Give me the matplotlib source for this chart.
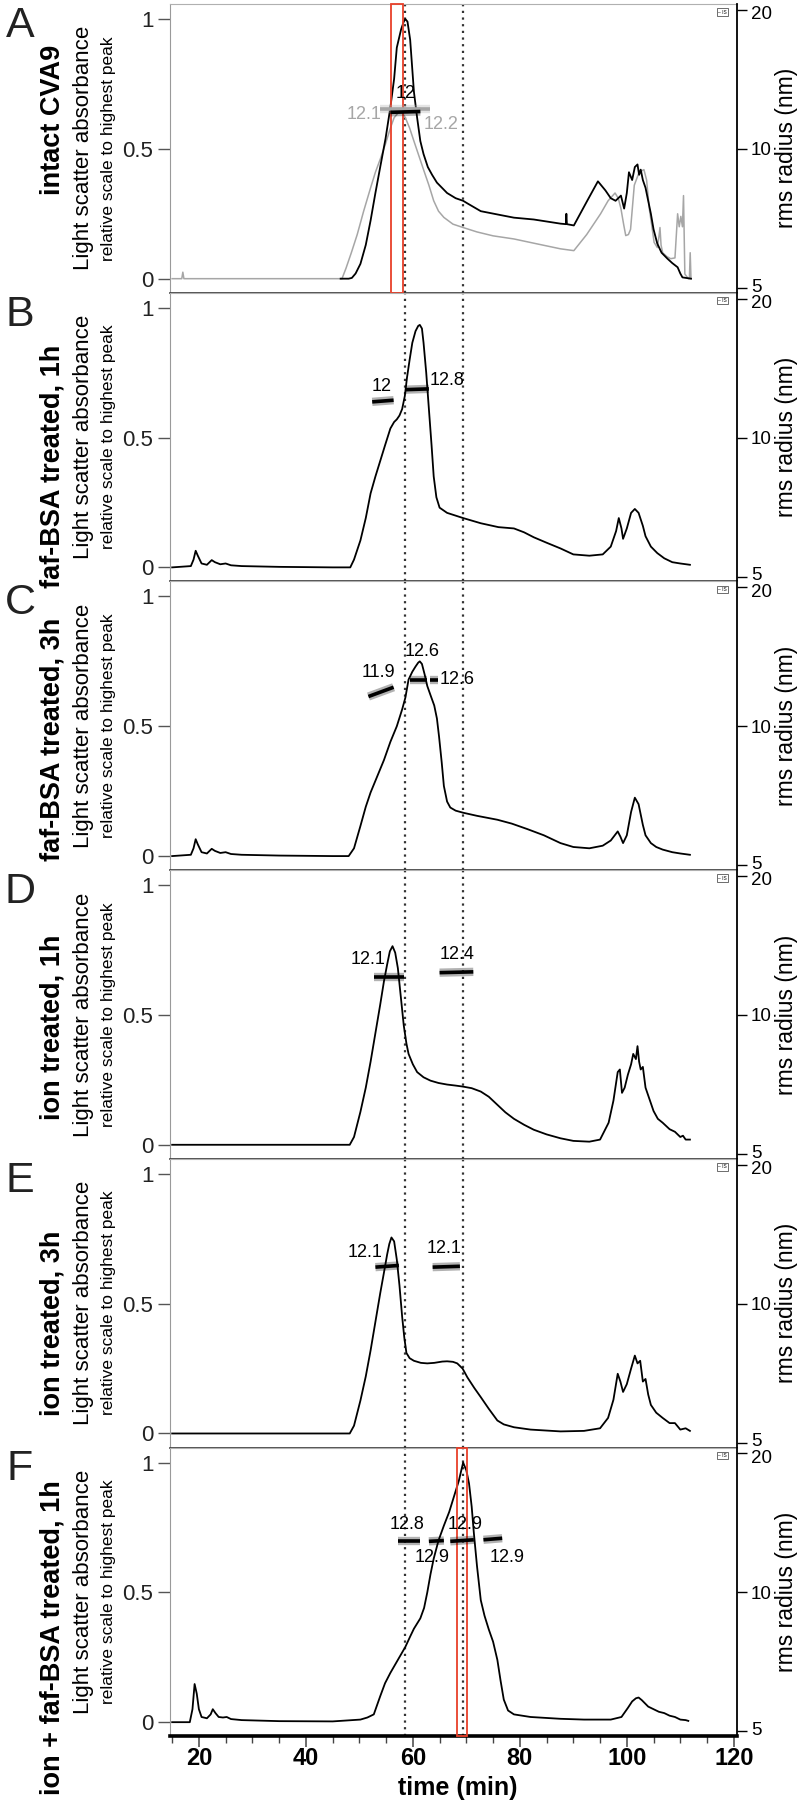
import matplotlib
matplotlib.use("Agg")
import matplotlib.pyplot as plt
from matplotlib.ticker import FixedLocator, MultipleLocator, NullLocator, NullFormatter
from matplotlib.patches import Rectangle
from matplotlib.transforms import ScaledTranslation

plt.rcParams['font.family'] = ['Liberation Sans', 'DejaVu Sans']

# ---- data -----------------------------------------------------------------
# time (min) / relative light scatter, one pair of lists per panel
a_t = [46.5, 48.0, 48.6, 49.3, 50.2, 51.2, 52.1, 53.0, 53.9, 54.9, 55.8, 56.5, 57.0, 57.8,
       58.3, 58.6, 59.0, 59.5, 60.2, 60.8, 61.4, 62.0, 62.8, 63.6, 64.5, 66.4, 68.0, 69.4,
       70.2, 72.7, 76.4, 78.9, 82.6, 87.6, 88.6, 88.7, 88.8, 90.1, 92.6, 94.6, 96.0, 97.0,
       97.9, 98.9, 99.5, 100.0, 100.4, 101.0, 101.5, 102.0, 102.3, 102.6, 103.0, 103.5,
       104.5, 105.0, 105.7, 106.5, 107.6, 108.5, 109.5, 110.0, 110.4, 112.0]
a_v = [0.0, 0.0, 0.003, 0.02, 0.057, 0.13, 0.224, 0.33, 0.43, 0.54, 0.66, 0.77, 0.89, 0.96,
       0.99, 1.0, 0.99, 0.92, 0.72, 0.62, 0.53, 0.48, 0.43, 0.40, 0.37, 0.33, 0.31, 0.30,
       0.29, 0.26, 0.245, 0.235, 0.228, 0.212, 0.21, 0.25, 0.21, 0.205, 0.30, 0.375, 0.34,
       0.31, 0.30, 0.32, 0.27, 0.33, 0.41, 0.38, 0.43, 0.44, 0.40, 0.42, 0.38, 0.35,
       0.25, 0.19, 0.135, 0.10, 0.077, 0.06, 0.044, 0.02, 0.005, 0.0]

a_gray_t = [15.0, 16.8, 17.0, 17.2, 46.75, 47.5, 48.5, 49.6, 50.8, 52.1, 53.0, 53.9, 54.9,
            55.8, 56.5, 57.3, 58.0, 58.6, 59.4, 60.2, 61.1, 62.0, 63.0, 63.9, 64.8, 65.8,
            67.5, 69.4, 72.0, 75.0, 78.9, 83.0, 87.6, 90.1, 92.5, 95.1, 96.5, 97.8, 98.4,
            98.9, 99.4, 99.8, 100.3, 100.7, 101.4, 102.3, 103.2, 103.7, 104.2, 104.7, 105.1,
            105.7, 106.0, 106.2, 106.4, 106.7, 107.5, 108.2, 109.0, 109.5, 109.8, 110.1,
            110.4, 110.6, 110.85, 111.5, 111.7, 111.85, 112.0]
a_gray_v = [0.0, 0.0, 0.025, 0.0, 0.0, 0.04, 0.10, 0.17, 0.26, 0.35, 0.41, 0.46, 0.52,
            0.58, 0.62, 0.64, 0.64, 0.62, 0.58, 0.53, 0.475, 0.42, 0.36, 0.30, 0.26, 0.236,
            0.21, 0.197, 0.18, 0.165, 0.153, 0.135, 0.115, 0.108, 0.17, 0.25, 0.30, 0.33, 0.31,
            0.27, 0.21, 0.166, 0.17, 0.19, 0.36, 0.41, 0.42, 0.38, 0.27, 0.20, 0.14,
            0.12, 0.16, 0.197, 0.13, 0.10, 0.085, 0.077, 0.08, 0.25, 0.20, 0.24,
            0.20, 0.32, 0.018, 0.0, 0.0, 0.10, 0.0]

b_t = [15.0, 18.5, 19.0, 19.4, 19.8, 20.5, 21.5, 22.4, 23.0, 24.0, 25.0, 26.0, 28.0, 35.0,
       45.0, 48.3, 49.0, 50.2, 51.2, 52.1, 53.0, 53.9, 54.8, 55.8, 56.5, 57.0, 57.5, 58.0,
       58.5, 58.9, 59.4, 59.9, 60.5, 61.0, 61.3, 61.7, 62.0, 62.5, 63.0, 63.5, 63.9, 64.4,
       65.0, 66.4, 69.4, 72.7, 76.0, 78.9, 80.8, 82.6, 85.0, 87.6, 90.0, 93.0, 95.5, 97.0,
       98.0, 98.5, 99.0, 99.3, 100.0, 100.8, 101.5, 102.2, 103.0, 103.5, 104.5, 105.7,
       107.0, 108.5, 110.0, 111.8]
b_v = [0.0, 0.005, 0.03, 0.064, 0.045, 0.015, 0.01, 0.028, 0.02, 0.012, 0.015, 0.008, 0.005,
       0.002, 0.0, 0.0, 0.03, 0.104, 0.19, 0.285, 0.35, 0.41, 0.47, 0.535, 0.56, 0.57, 0.585,
       0.61, 0.66, 0.73, 0.80, 0.865, 0.91, 0.93, 0.934, 0.92, 0.865, 0.75, 0.61, 0.47, 0.35,
       0.27, 0.23, 0.21, 0.19, 0.17, 0.155, 0.15, 0.135, 0.116, 0.095, 0.073, 0.05, 0.045,
       0.05, 0.08, 0.14, 0.19, 0.15, 0.11, 0.15, 0.21, 0.225, 0.21, 0.16, 0.12, 0.08, 0.055,
       0.035, 0.02, 0.015, 0.01]

c_t = [15.0, 18.5, 19.0, 19.4, 19.8, 20.5, 21.5, 22.4, 23.0, 24.0, 25.0, 26.0, 28.0, 35.0,
       45.0, 48.0, 49.0, 50.2, 51.2, 52.1, 53.0, 53.6, 54.6, 55.8, 57.0, 58.0, 58.6, 59.2,
       59.9, 60.5, 61.0, 61.3, 61.7, 62.2, 62.7, 63.3, 64.0, 64.5, 64.9, 65.4, 65.8, 66.4,
       67.0, 68.0, 69.4, 72.0, 75.8, 78.5, 81.4, 84.5, 87.6, 90.0, 93.0, 95.5, 97.0, 98.3,
       98.8, 99.3, 100.0, 100.8, 101.5, 102.2, 103.0, 103.5, 104.5, 105.5, 106.7, 108.5,
       110.0, 111.8]
c_v = [0.0, 0.005, 0.03, 0.065, 0.045, 0.015, 0.01, 0.028, 0.02, 0.012, 0.015, 0.008, 0.005,
       0.002, 0.0, 0.0, 0.03, 0.116, 0.19, 0.245, 0.29, 0.32, 0.37, 0.44, 0.50, 0.565, 0.61,
       0.68, 0.71, 0.73, 0.745, 0.75, 0.74, 0.70, 0.655, 0.62, 0.58, 0.53, 0.46, 0.36, 0.27,
       0.21, 0.187, 0.175, 0.167, 0.155, 0.14, 0.125, 0.104, 0.08, 0.05, 0.035, 0.03, 0.04,
       0.06, 0.095, 0.075, 0.05, 0.08, 0.17, 0.225, 0.20, 0.12, 0.08, 0.05, 0.035, 0.025,
       0.015, 0.01, 0.005]

d_t = [15.0, 45.0, 48.2, 49.0, 50.2, 51.2, 52.1, 53.0, 53.9, 54.6, 55.2, 55.7, 56.2, 56.7,
       57.2, 57.7, 58.3, 58.8, 59.2, 60.0, 60.8, 62.0, 63.3, 64.8, 66.4, 68.0, 69.4, 71.0,
       72.7, 74.2, 75.8, 77.3, 78.9, 80.8, 82.6, 85.0, 87.6, 90.0, 93.0, 95.0, 96.6, 97.5,
       98.3, 98.7, 99.1, 99.6, 100.2, 100.8, 101.2, 101.7, 102.0, 102.3, 102.6, 103.0,
       103.5, 104.0, 105.0, 105.8, 106.7, 108.0, 109.0, 110.0, 110.5, 111.0, 111.8]
d_v = [0.0, 0.0, 0.0, 0.03, 0.127, 0.22, 0.32, 0.43, 0.54, 0.63, 0.695, 0.745, 0.765, 0.74,
       0.68, 0.58, 0.46, 0.39, 0.35, 0.31, 0.28, 0.26, 0.247, 0.238, 0.232, 0.228, 0.224,
       0.218, 0.205, 0.185, 0.154, 0.125, 0.10, 0.077, 0.058, 0.04, 0.025, 0.015, 0.012,
       0.02, 0.085, 0.17, 0.28, 0.29, 0.20, 0.22, 0.27, 0.31, 0.35, 0.33, 0.38, 0.32, 0.29,
       0.30, 0.22, 0.19, 0.13, 0.10, 0.085, 0.06, 0.05, 0.03, 0.035, 0.02, 0.02]

e_t = [15.0, 45.0, 48.2, 49.0, 50.2, 51.2, 52.1, 53.0, 53.9, 54.6, 55.2, 55.6, 56.0, 56.5,
       57.0, 57.5, 58.0, 58.4, 58.8, 59.4, 60.2, 61.5, 62.7, 64.0, 65.5, 66.4, 67.5, 68.3,
       69.3, 70.2, 71.5, 72.7, 74.2, 75.8, 77.0, 78.9, 82.0, 87.6, 92.0, 95.0, 96.5, 97.5,
       98.3, 98.8, 99.3, 100.0, 100.8, 101.5, 102.0, 102.5, 103.0, 103.5, 104.0, 104.5,
       105.5, 106.7, 108.0, 109.0, 110.0, 111.0, 111.8]
e_v = [0.0, 0.0, 0.0, 0.03, 0.127, 0.22, 0.32, 0.43, 0.54, 0.62, 0.69, 0.73, 0.755, 0.74,
       0.67, 0.57, 0.45, 0.37, 0.31, 0.29, 0.28, 0.272, 0.27, 0.272, 0.277, 0.278, 0.276,
       0.27, 0.25, 0.216, 0.175, 0.14, 0.095, 0.05, 0.035, 0.024, 0.015, 0.008, 0.01, 0.02,
       0.06, 0.13, 0.23, 0.20, 0.16, 0.19, 0.25, 0.30, 0.27, 0.28, 0.20, 0.21, 0.15, 0.11,
       0.08, 0.06, 0.04, 0.04, 0.015, 0.02, 0.01]

f_t = [15.0, 18.3, 18.8, 19.2, 19.6, 20.0, 20.5, 21.5, 22.2, 22.6, 23.1, 23.7, 24.5, 25.2,
       26.0, 28.0, 35.0, 45.0, 50.2, 51.5, 52.7, 53.9, 54.8, 55.8, 57.2, 58.6, 59.5, 60.2,
       61.4, 62.1, 62.7, 63.3, 63.9, 64.8, 65.8, 66.8, 67.7, 68.6, 69.4, 70.0, 70.5, 71.0,
       71.4, 72.0, 72.7, 73.4, 74.2, 75.0, 75.8, 76.4, 77.0, 77.8, 78.9, 82.0, 87.6, 92.0,
       97.0, 99.0, 100.2, 101.0, 101.7, 102.2, 102.8, 104.0, 105.0, 106.0, 107.0, 108.0,
       109.0, 110.0, 111.0, 111.5]
f_v = [0.0, 0.0, 0.05, 0.147, 0.11, 0.05, 0.02, 0.015, 0.03, 0.05, 0.035, 0.02, 0.018, 0.02,
       0.012, 0.008, 0.004, 0.003, 0.01, 0.018, 0.03, 0.10, 0.15, 0.19, 0.24, 0.29, 0.33,
       0.36, 0.40, 0.44, 0.50, 0.57, 0.63, 0.70, 0.757, 0.81, 0.87, 0.93, 1.0, 0.97, 0.92,
       0.83, 0.73, 0.60, 0.47, 0.41, 0.357, 0.31, 0.24, 0.16, 0.087, 0.045, 0.03, 0.02,
       0.013, 0.01, 0.01, 0.02, 0.055, 0.08, 0.092, 0.095, 0.085, 0.06, 0.05, 0.04, 0.035,
       0.025, 0.02, 0.01, 0.008, 0.005]

# rms radius bands (nm): t start, t end, radius at start, radius at end, colour
a_bands = [(53.9, 63.3, 12.2, 12.2, 'gray'), (55.8, 61.4, 12.0, 12.05, 'black')]
b_bands = [(52.4, 56.4, 11.95, 12.05, 'black'), (58.6, 63.0, 12.7, 12.75, 'black')]
c_bands = [(51.7, 56.4, 11.6, 12.15, 'black'), (59.5, 62.7, 12.6, 12.6, 'black'),
           (63.2, 64.7, 12.6, 12.6, 'black')]
d_bands = [(52.7, 58.4, 12.1, 12.1, 'black'), (65.0, 71.3, 12.35, 12.4, 'black')]
e_bands = [(53.0, 57.4, 12.0, 12.1, 'black'), (63.7, 68.8, 12.0, 12.05, 'black')]
f_bands = [(57.2, 61.3, 12.9, 12.9, 'black'), (63.0, 65.8, 12.9, 12.95, 'black'),
           (67.0, 71.4, 12.9, 13.0, 'black'), (73.2, 76.7, 13.0, 13.1, 'black')]

# value labels: text, time, radius position, colour
a_labels = [('12', 58.6, 13.2, 'black'), ('12.1', 50.8, 11.85, 'gray'), ('12.2', 65.2, 11.27, 'gray')]
b_labels = [('12', 54.2, 12.9, 'black'), ('12.8', 66.4, 13.3, 'black')]
c_labels = [('11.9', 53.6, 13.1, 'black'), ('12.6', 61.7, 14.5, 'black'), ('12.6', 68.3, 12.6, 'black')]
d_labels = [('12.1', 51.6, 13.2, 'black'), ('12.4', 68.2, 13.5, 'black')]
e_labels = [('12.1', 51.1, 12.9, 'black'), ('12.1', 65.8, 13.2, 'black')]
f_labels = [('12.8', 58.9, 14.0, 'black'), ('12.9', 63.6, 11.9, 'black'),
            ('12.9', 69.8, 14.0, 'black'), ('12.9', 77.6, 11.9, 'black')]

panel_letters = ['A', 'B', 'C', 'D', 'E', 'F']
panel_names = ['intact CVA9', 'faf-BSA treated, 1h', 'faf-BSA treated, 3h',
               'ion treated, 1h', 'ion treated, 3h', 'ion + faf-BSA treated, 1h']
name_centres = [120, 466, 739, 1027, 1323, 1638]   # pixel rows of the bold names
marker_times = [58.6, 69.4]                          # dotted reference lines
red_boxes = {0: (56.0, 58.1), 5: (68.2, 70.2)}

curves = [(a_t, a_v), (b_t, b_v), (c_t, c_v), (d_t, d_v), (e_t, e_v), (f_t, f_v)]
bands = [a_bands, b_bands, c_bands, d_bands, e_bands, f_bands]
labels = [a_labels, b_labels, c_labels, d_labels, e_labels, f_labels]

# ---- figure ----------------------------------------------------------------
W, H = 800, 1804
fig = plt.figure(figsize=(W / 100, H / 100), dpi=100)

left_px, right_px = 170, 737
top_px, panel_h = 4, 288.7
gray_c = '#a6a6a6'
narrow = ['Liberation Sans Narrow', 'Liberation Sans', 'DejaVu Sans']

for k in range(6):
    top = top_px + k * panel_h
    ax = fig.add_axes([left_px / W, 1 - (top + panel_h) / H,
                       (right_px - left_px) / W, panel_h / H])
    ax.set_xlim(14.6, 120.6)
    ax.set_ylim(-0.054, 1.058)

    t, v = curves[k]
    if k == 0:
        ax.plot(a_gray_t, a_gray_v, color=gray_c, lw=1.1, zorder=2)
    ax.plot(t, v, color='black', lw=1.3, zorder=3)

    for xm in marker_times:
        ax.axvline(xm, color='#333333', lw=1.6, ls=(0, (1, 2)), zorder=1)

    if k in red_boxes:
        x0, x1 = red_boxes[k]
        ax.add_patch(Rectangle((x0, -0.054), x1 - x0, 1.112, fill=False,
                               edgecolor='#e8402a', lw=1.3, zorder=4, clip_on=False))

    # spines
    ax.spines['right'].set_visible(False)
    ax.spines['top'].set_color('#b0b0b0')
    ax.spines['left'].set_color('#9a9a9a')
    if k == 5:
        ax.spines['bottom'].set_color('black')
        ax.spines['bottom'].set_linewidth(2.6)
    else:
        ax.spines['bottom'].set_color('#333333')
        ax.spines['bottom'].set_linewidth(1.2)

    ax.xaxis.set_major_locator(MultipleLocator(20))
    ax.xaxis.set_minor_locator(MultipleLocator(5))
    ax.tick_params(axis='x', which='major', direction='out', length=8, width=1.1, color='#444444')
    ax.tick_params(axis='x', which='minor', direction='out', length=5, width=1.0, color='#444444')
    if k == 5:
        ax.tick_params(axis='x', which='major', labelsize=17, pad=0)
        for lab in ax.get_xticklabels():
            lab.set_fontfamily(narrow)
            lab.set_fontweight('bold')
    else:
        ax.tick_params(axis='x', labelbottom=False)

    ax.yaxis.set_major_locator(FixedLocator([0, 0.5, 1]))
    ax.set_yticklabels(['0', '0.5', '1'])
    ax.tick_params(axis='y', direction='out', length=9, width=1.0, color='#555555',
                   labelsize=16, labelcolor='#222222', pad=3)

    # right axis: rms radius
    ax2 = ax.twinx()
    ax2.set_yscale('log')
    ax2.set_ylim(4.88, 20.6)
    ax2.set_xlim(14.6, 120.6)
    ax2.yaxis.set_major_locator(FixedLocator([5, 10, 20]))
    ax2.yaxis.set_minor_locator(NullLocator())
    ax2.yaxis.set_minor_formatter(NullFormatter())
    ax2.set_yticklabels(['5', '10', '20'])
    ax2.tick_params(axis='y', direction='out', length=7, width=1.0, labelsize=13.5, pad=3)
    # nudge the edge labels apart a little, as in the original
    rl = ax2.get_yticklabels()
    rl[0].set_transform(rl[0].get_transform() + ScaledTranslation(0, 2 / 72, fig.dpi_scale_trans))
    rl[2].set_transform(rl[2].get_transform() + ScaledTranslation(0, -2 / 72, fig.dpi_scale_trans))
    for side in ['left', 'top', 'bottom']:
        ax2.spines[side].set_visible(False)
    ax2.spines['right'].set_linewidth(1.3)

    for (t0, t1, r0, r1, col) in bands[k]:
        c = gray_c if col == 'gray' else 'black'
        ax2.plot([t0, t1], [r0, r1], color=c, lw=6, alpha=0.3, solid_capstyle='butt', zorder=5)
        ax2.plot([t0, t1], [r0, r1], color=c, lw=2.6, solid_capstyle='butt', zorder=6)
    for (txt, tx, ry, col) in labels[k]:
        c = gray_c if col == 'gray' else 'black'
        ax2.text(tx, ry, txt, color=c, fontsize=13, ha='center', va='center', zorder=7)

    # small "-IS" legend box
    ax2.text(0.975, 0.972, '\u2013 IS', transform=ax2.transAxes, fontsize=3.5,
             ha='center', va='center',
             bbox=dict(boxstyle='square,pad=0.25', fc='white', ec='#555555', lw=0.6))

    # left-hand text
    cy = 1 - (top + panel_h / 2) / H
    fig.text(20 / W, 1 - (top + 22) / H, panel_letters[k], fontsize=31,
             ha='center', va='center', color='#222222')
    fig.text(53 / W, 1 - name_centres[k] / H, panel_names[k], fontsize=19.5,
             fontweight='bold', rotation=90, ha='center', va='center')
    fig.text(83 / W, cy, 'Light scatter absorbance', fontsize=16, rotation=90,
             ha='center', va='center')
    fig.text(108 / W, cy, 'relative scale to highest peak', fontsize=12.5, rotation=90,
             ha='center', va='center')
    fig.text(787 / W, cy, 'rms radius (nm)', fontsize=16.5, rotation=90,
             ha='center', va='center')

fig.text(458 / W, 1 - 1788 / H, 'time (min)', fontsize=18, fontweight='bold',
         family=narrow, ha='center', va='center')

fig.savefig('out.png', dpi=100)
